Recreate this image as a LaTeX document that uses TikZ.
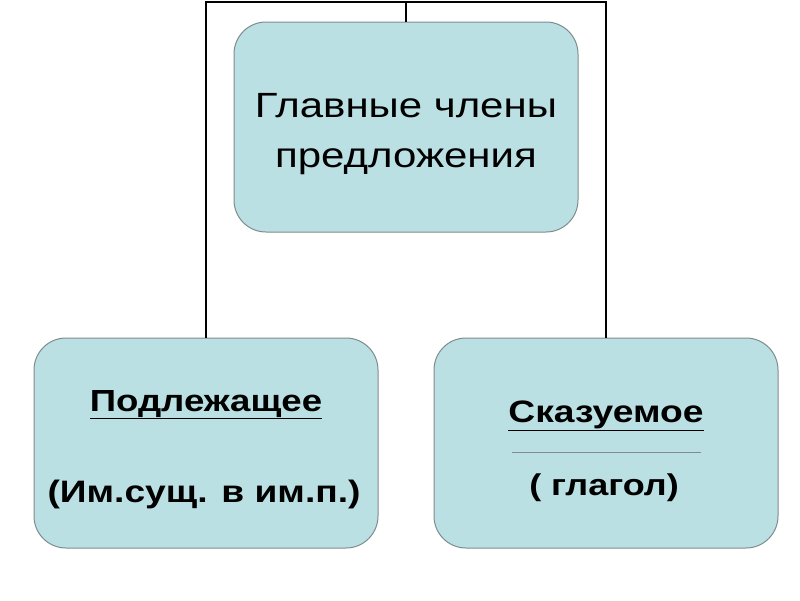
\documentclass[tikz,border=0pt]{standalone}
\usepackage{fontspec}
\setmainfont{Liberation Sans}
\definecolor{boxfill}{HTML}{BBE0E3}
\definecolor{boxedge}{HTML}{7F8C8D}
\begin{document}
\begin{tikzpicture}[x=1pt,y=-1pt,
  box/.style={draw=boxedge, line width=1pt, fill=boxfill, rounded corners=32pt, inner sep=0pt},
  conn/.style={draw=black, line width=2pt},
  txt/.style={inner sep=0pt, anchor=base, transform shape, xscale=1.2}]
\useasboundingbox (0,0) rectangle (800,600);
\fill[white] (0,0) rectangle (800,600);
\node[box, minimum width=344pt, minimum height=210pt] (top) at (406,127) {};
\node[box, minimum width=344pt, minimum height=210pt] (L) at (206,443) {};
\node[box, minimum width=344pt, minimum height=210pt] (R) at (606,443) {};
\coordinate (bar) at (406,2);
\draw[conn] (top.north) -- (top.north |- bar);
\draw[conn, line join=miter] (L.north) -- (L.north |- bar) -- (R.north |- bar) -- (R.north);
\node[txt, font=\fontsize{35}{42}\selectfont] (t1) at (406,117) {Главные члены};
\node[txt, font=\fontsize{35}{42}\selectfont] (t2) at (406,167) {предложения};
\node[txt, font=\fontsize{30.5}{36}\bfseries] (l1) at (206,411) {\underline{Подлежащее}};
\node[txt, font=\fontsize{31}{37}\bfseries] (l2) at (204,502) {(Им.сущ. в им.п.)};
\node[txt, font=\fontsize{31}{37}\bfseries] (r1) at (606,422) {\underline{Сказуемое}};
\node[txt, font=\fontsize{30}{36}\bfseries] (r2) at (604,495) {( глагол)};
\coordinate (sepL) at (512,452);
\coordinate (sepR) at (701,452);
\draw[boxedge, line width=0.8pt] (sepL) -- (sepR);
\end{tikzpicture}
\end{document}
